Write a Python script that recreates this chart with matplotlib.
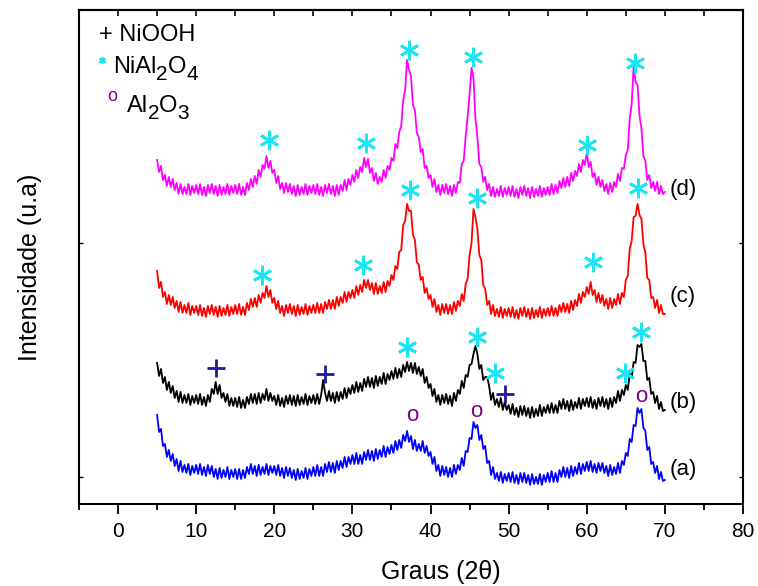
import numpy as np
import matplotlib
matplotlib.use("Agg")
import matplotlib.pyplot as plt
from matplotlib.transforms import IdentityTransform

plt.rcParams['font.family'] = ['Liberation Sans', 'DejaVu Sans']

# 2theta grid of the scans (5 to 70 degrees, 0.25 step)
theta = np.arange(5, 70.125, 0.25)

# intensities (u.a), traces already shifted up for stacking; one row = 5 degrees
amostra_d = [344, 332, 338, 324, 329, 318, 327, 317, 325, 314, 321, 310, 320, 310, 317, 310, 320, 309, 318, 311,
             319, 310, 320, 309, 317, 308, 319, 311, 320, 310, 318, 308, 319, 309, 317, 310, 320, 309, 318, 311,
             319, 310, 320, 309, 317, 309, 321, 314, 325, 317, 328, 320, 334, 327, 339, 335, 348, 336, 343, 331,
             334, 321, 328, 315, 321, 311, 321, 312, 320, 310, 318, 308, 319, 309, 317, 310, 320, 309, 318, 311,
             319, 310, 320, 309, 317, 308, 319, 311, 320, 310, 318, 308, 319, 309, 319, 313, 324, 314, 325, 319,
             329, 322, 334, 326, 337, 332, 346, 337, 345, 331, 336, 323, 331, 320, 327, 322, 334, 326, 338, 334,
             346, 343, 360, 356, 372, 378, 404, 414, 444, 434, 428, 399, 394, 371, 367, 352, 355, 336, 338, 326,
             329, 317, 325, 312, 319, 309, 319, 311, 320, 310, 318, 308, 319, 311, 322, 321, 340, 343, 368, 387,
             410, 436, 426, 385, 367, 340, 337, 322, 327, 314, 320, 308, 317, 307, 315, 308, 318, 307, 316, 309,
             317, 308, 318, 307, 315, 306, 317, 309, 318, 308, 316, 306, 317, 307, 315, 308, 318, 307, 316, 309,
             317, 309, 320, 310, 319, 311, 323, 316, 326, 317, 327, 318, 331, 323, 333, 328, 340, 332, 344, 339,
             351, 337, 342, 327, 331, 319, 327, 317, 324, 313, 320, 310, 321, 312, 322, 317, 330, 323, 336, 335,
             349, 354, 385, 400, 437, 422, 419, 389, 375, 348, 343, 324, 329, 316, 322, 313, 322, 310, 318, 310,
             312]

amostra_c = [233, 216, 222, 207, 212, 200, 209, 199, 207, 196, 203, 192, 202, 191, 199, 191, 201, 189, 198, 191,
             198, 189, 199, 188, 196, 187, 198, 190, 199, 189, 197, 187, 198, 188, 196, 189, 199, 188, 197, 190,
             199, 190, 200, 189, 197, 189, 201, 194, 205, 197, 206, 197, 209, 201, 211, 206, 218, 207, 214, 201,
             206, 195, 203, 191, 198, 188, 199, 191, 200, 190, 198, 188, 199, 189, 197, 190, 200, 189, 198, 191,
             199, 191, 201, 191, 200, 191, 202, 195, 204, 195, 204, 195, 207, 198, 207, 201, 212, 202, 212, 206,
             214, 206, 218, 209, 219, 212, 224, 216, 224, 214, 221, 210, 221, 210, 218, 211, 222, 212, 223, 218,
             229, 224, 238, 235, 252, 254, 279, 283, 300, 293, 293, 269, 264, 242, 239, 224, 227, 211, 216, 205,
             209, 197, 205, 192, 199, 189, 200, 191, 200, 190, 199, 190, 202, 193, 203, 198, 210, 203, 220, 225,
             249, 261, 295, 287, 275, 249, 244, 219, 215, 199, 203, 190, 199, 188, 195, 187, 197, 186, 195, 188,
             196, 187, 197, 186, 194, 185, 196, 188, 197, 187, 195, 185, 196, 186, 194, 187, 197, 186, 195, 188,
             196, 188, 198, 188, 196, 188, 199, 192, 201, 192, 200, 191, 203, 194, 204, 198, 210, 201, 212, 207,
             217, 210, 222, 209, 214, 202, 211, 201, 209, 198, 205, 195, 206, 196, 205, 199, 210, 200, 211, 207,
             224, 228, 255, 263, 287, 288, 300, 289, 285, 260, 251, 226, 224, 206, 207, 196, 204, 191, 199, 190,
             190]

amostra_b = [141, 128, 135, 121, 127, 114, 122, 111, 118, 106, 113, 102, 112, 101, 109, 101, 110, 99, 108, 101,
             109, 100, 110, 99, 107, 98, 109, 102, 115, 110, 122, 110, 119, 106, 111, 102, 110, 98, 106, 98,
             106, 97, 107, 96, 104, 96, 107, 100, 110, 101, 110, 100, 111, 101, 110, 104, 115, 103, 111, 103,
             108, 99, 109, 98, 106, 97, 108, 100, 109, 99, 108, 98, 109, 99, 107, 100, 110, 99, 108, 101,
             109, 100, 110, 100, 109, 124, 111, 103, 113, 103, 111, 101, 112, 103, 112, 105, 116, 106, 116, 110,
             119, 111, 122, 112, 121, 113, 125, 117, 127, 117, 126, 116, 128, 118, 127, 120, 131, 120, 130, 124,
             133, 125, 136, 126, 135, 127, 139, 132, 142, 133, 141, 131, 141, 130, 137, 128, 135, 121, 127, 116,
             120, 108, 115, 102, 109, 99, 109, 101, 110, 100, 108, 98, 111, 103, 114, 110, 123, 116, 129, 127,
             139, 140, 150, 158, 150, 135, 139, 124, 127, 127, 118, 104, 111, 99, 105, 97, 106, 94, 102, 94,
             99, 90, 100, 89, 96, 87, 98, 89, 98, 88, 96, 86, 97, 87, 95, 88, 99, 88, 97, 91,
             99, 91, 101, 91, 99, 91, 103, 95, 105, 95, 103, 93, 104, 94, 102, 96, 106, 95, 105, 98,
             106, 97, 107, 96, 104, 95, 106, 98, 107, 97, 105, 95, 106, 97, 107, 101, 113, 103, 114, 109,
             119, 114, 130, 126, 142, 141, 159, 157, 160, 143, 143, 124, 126, 110, 112, 101, 108, 95, 102, 93,
             94]

amostra_a = [89, 72, 75, 58, 60, 47, 54, 43, 50, 38, 45, 33, 43, 32, 39, 31, 40, 29, 38, 31,
             39, 30, 40, 29, 37, 28, 39, 30, 38, 27, 35, 25, 36, 26, 34, 27, 37, 25, 34, 27,
             35, 25, 35, 25, 34, 26, 37, 30, 40, 30, 38, 28, 39, 29, 37, 30, 40, 29, 38, 31,
             38, 29, 39, 28, 36, 26, 37, 28, 36, 26, 34, 24, 35, 25, 33, 26, 36, 25, 35, 28,
             37, 28, 39, 28, 37, 28, 40, 32, 42, 32, 41, 31, 43, 34, 43, 36, 47, 37, 47, 40,
             49, 40, 51, 40, 49, 40, 52, 44, 54, 44, 53, 43, 55, 45, 54, 47, 58, 47, 57, 50,
             59, 51, 63, 54, 64, 56, 69, 63, 73, 62, 68, 55, 64, 53, 60, 53, 63, 51, 58, 48,
             52, 40, 47, 33, 39, 28, 38, 29, 37, 27, 36, 27, 39, 30, 39, 34, 46, 38, 53, 52,
             66, 65, 82, 76, 79, 64, 69, 55, 58, 41, 43, 29, 37, 25, 31, 23, 32, 21, 30, 23,
             31, 22, 32, 21, 29, 20, 31, 22, 31, 21, 29, 19, 30, 20, 27, 20, 30, 19, 29, 22,
             31, 22, 33, 22, 31, 22, 34, 27, 37, 27, 36, 26, 38, 28, 37, 30, 41, 30, 40, 33,
             42, 33, 43, 32, 40, 31, 41, 33, 41, 31, 38, 28, 39, 29, 37, 30, 41, 31, 43, 39,
             51, 48, 65, 62, 79, 78, 96, 91, 95, 76, 73, 54, 57, 40, 42, 31, 38, 25, 32, 23,
             24]

rotulos = ['(a)', '(b)', '(c)', '(d)']
rotulos_y = [34, 101, 207, 314]

# fases identificadas (posicao 2theta, altura do simbolo)
nial2o4_x = [19.3, 31.7, 37.2, 45.5, 60.0, 66.2,
             18.4, 31.3, 37.4, 45.9, 60.8, 66.6,
             37.0, 46.0, 48.3, 64.9, 66.9]
nial2o4_y = [364, 361, 454, 447, 359, 441,
             229, 239, 314, 306, 242, 316,
             157, 167, 131, 131, 172]
niooh_x = [12.6, 26.5, 49.5]
niooh_y = [136, 130, 110]
al2o3_x = [37.6, 45.9, 67.0]
al2o3_y = [88, 92, 107]

fig = plt.figure(figsize=(7.58, 5.86), dpi=100)
ax = fig.add_axes([0.1042, 0.140, 0.876, 0.843])

ax.plot(theta, amostra_a, color='#0000ff', lw=1.3)
ax.plot(theta, amostra_b, color='black', lw=1.3)
ax.plot(theta, amostra_c, color='#ff0000', lw=1.3)
ax.plot(theta, amostra_d, color='#ff00ff', lw=1.3)

ax.plot(nial2o4_x, nial2o4_y, ls='none', marker=(6, 2, 0), ms=14, mew=2.0, color='#19e6f0')
ax.plot(niooh_x, niooh_y, ls='none', marker='+', ms=13, mew=2.0, color='#1c1c96')
for x, y in zip(al2o3_x, al2o3_y):
    ax.text(x, y, 'o', color='#800080', fontsize=16, ha='center', va='center')

for r, y in zip(rotulos, rotulos_y):
    ax.text(70.6, y, r, fontsize=16, va='center', ha='left')

ax.set_xlim(-5, 80)
ax.set_ylim(0, 494)


def formula(x, y, pecas):
    # escreve a formula peca por peca, com indices quase do tamanho do texto
    renderer = fig.canvas.get_renderer()
    px, py = ax.transData.transform((x, y))
    for texto, indice in pecas:
        t = ax.text(px, py - (7 if indice else 0), texto, transform=IdentityTransform(),
                    fontsize=15 if indice else 17, va='baseline', ha='left')
        px = t.get_window_extent(renderer).x1


# legenda das fases
ax.text(-2.4, 469, '+ NiOOH', fontsize=17, va='center', ha='left')
ax.plot([-2.0], [444], ls='none', marker=(6, 2, 0), ms=5, mew=1.2, color='#19e6f0')
formula(-0.64, 431, [('NiAl', False), ('2', True), ('O', False), ('4', True)])
ax.text(-0.8, 407, 'o', color='#800080', fontsize=13, va='center', ha='center')
formula(1.1, 392, [('Al', False), ('2', True), ('O', False), ('3', True)])

ax.set_xticks(np.arange(0, 81, 10))
ax.set_xticks(np.arange(-5, 81, 5), minor=True)
ax.set_yticks([27, 261])
ax.tick_params(axis='x', direction='out', length=7, width=1.3, labelsize=15, pad=6)
ax.tick_params(axis='x', which='minor', direction='out', length=4, width=1.3)
ax.tick_params(axis='y', direction='in', length=3, width=1.0, left=True, right=True,
               labelleft=False)
topo = ax.secondary_xaxis('top')
topo.set_xticks(np.arange(-5, 81, 5))
topo.tick_params(direction='in', length=4, width=1.2, labeltop=False)
for s in ax.spines.values():
    s.set_linewidth(1.5)
topo.spines['top'].set_linewidth(1.5)

ax.set_xlabel('Graus (2θ)', fontsize=18, va='center', ha='center')
ax.xaxis.set_label_coords(0.545, -0.138)
ax.set_ylabel('Intensidade (u.a)', fontsize=18, va='center', ha='center')
ax.yaxis.set_label_coords(-0.074, 0.48)

fig.savefig('out.png', dpi=100)
